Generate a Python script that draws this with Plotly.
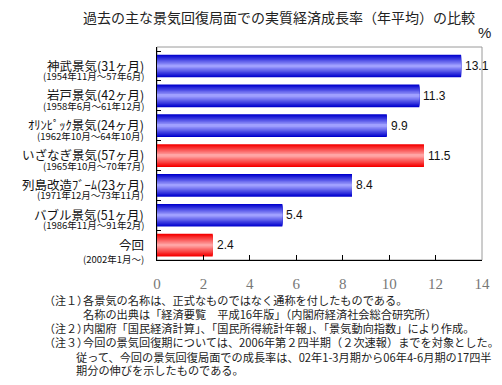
import plotly.graph_objects as go

# ---- data ----
names = ["神武景気(31ヶ月)", "岩戸景気(42ヶ月)", "ｵﾘﾝﾋﾟｯｸ景気(24ヶ月)", "いざなぎ景気(57ヶ月)",
         "列島改造ﾌﾞｰﾑ(23ヶ月)", "バブル景気(51ヶ月)", "今回"]
periods = ["(1954年11月～57年6月)", "(1958年6月～61年12月)", "(1962年10月～64年10月)",
           "(1965年10月～70年7月)", "(1971年12月～73年11月)", "(1986年11月～91年2月)",
           "(2002年1月～)"]
growth = [13.1, 11.3, 9.9, 11.5, 8.4, 5.4, 2.4]
highlight = [False, False, False, True, False, False, True]
x_ticks = [0, 2, 4, 6, 8, 10, 12, 14]

title_text = "過去の主な景気回復局面での実質経済成長率（年平均）の比較"
notes = [
    ("（注１）", "各景気の名称は、正式なものではなく通称を付したものである。"),
    ("", "名称の出典は「経済要覧　平成16年版」（内閣府経済社会総合研究所）"),
    ("（注２）", "内閣府「国民経済計算」、「国民所得統計年報」、「景気動向指数」により作成。"),
    ("（注３）", "今回の景気回復期については、2006年第２四半期（２次速報）までを対象とした。"),
    ("", "従って、今回の景気回復局面での成長率は、02年1-3月期から06年4-6月期の17四半"),
    ("", "期分の伸びを示したものである。"),
]

# ---- layout geometry (px) ----
W, H = 502, 385
L, R, T, B = 157, 15, 47, 125
PW, PH = W - L - R, H - T - B

def px(xp, yp):
    return (xp - L) / PW, 1 - (yp - T) / PH

JP = "Noto Sans CJK JP"

def mix(c1, c2, t):
    return "rgb(%d,%d,%d)" % tuple(round(a + (b - a) * t) for a, b in zip(c1, c2))

blue_dark, blue_light = (0, 0, 205), (160, 160, 255)
red_dark, red_light = (245, 0, 0), (255, 165, 165)

fig = go.Figure()
N = 12
full_w = 0.76
for i in range(N):
    t = i / (N - 1)
    w = full_w * (1 - i / N)
    cols = [mix(red_dark, red_light, t) if h else mix(blue_dark, blue_light, t) for h in highlight]
    fig.add_trace(go.Bar(
        x=growth, y=names, orientation="h", width=w,
        marker=dict(color=cols, line=dict(width=0)),
        hoverinfo="skip", showlegend=False,
    ))

# value labels
for n, v in zip(names, growth):
    fig.add_annotation(x=v, y=n, xref="x", yref="y", text=f"{v:.1f}", showarrow=False,
                       xanchor="left", yanchor="middle", xshift=2,
                       font=dict(family="Liberation Sans, Arial", size=12, color="#111"))

# category labels
for k, (n, p) in enumerate(zip(names, periods)):
    last = k == len(names) - 1
    fig.add_annotation(x=0, y=n, xref="paper", yref="y", text=n, showarrow=False,
                       xanchor="right", yanchor="middle", xshift=-11, yshift=1,
                       font=dict(family=JP, size=12.5, color="#111"))
    fig.add_annotation(x=0, y=n, xref="paper", yref="y", text=p, showarrow=False,
                       xanchor="right", yanchor="middle", xshift=-11,
                       yshift=-14 if last else -10,
                       font=dict(family=JP, size=9.5, color="#111"))

# percent sign
xp, yp = px(490, 33)
fig.add_annotation(x=xp, y=yp, xref="paper", yref="paper", text="%", showarrow=False,
                   xanchor="center", yanchor="middle",
                   font=dict(family="Liberation Sans, Arial", size=15, color="#222"))

# notes
note_y = [300, 314, 328, 342, 357, 370]
for k, ((lab, body), ny) in enumerate(zip(notes, note_y)):
    if lab:
        xp, yp = px(40, ny)
        fig.add_annotation(x=xp, y=yp, xref="paper", yref="paper", text=lab, showarrow=False,
                           xanchor="left", yanchor="middle",
                           font=dict(family=JP, size=11, color="#222"))
    bx = 80 if k < 4 else 73
    xp, yp = px(bx, ny)
    fig.add_annotation(x=xp, y=yp, xref="paper", yref="paper", text=body, showarrow=False,
                       xanchor="left", yanchor="middle",
                       font=dict(family=JP, size=11.2, color="#222"))

# gray frame
fig.add_shape(type="rect", xref="x domain", yref="y domain", x0=0, x1=1, y0=0, y1=1,
              line=dict(color="#9a9a9a", width=1), layer="below")

fig.update_layout(
    width=W, height=H,
    margin=dict(l=L, r=R, t=T, b=B),
    paper_bgcolor="white", plot_bgcolor="white",
    barmode="overlay",
    title=dict(text=title_text, xref="container", yref="container",
               x=279 / W, y=1 - 18 / H, xanchor="center", yanchor="middle",
               font=dict(family=JP, size=14, color="#222")),
    xaxis=dict(range=[0, 14], tickvals=x_ticks, ticktext=[str(v) for v in x_ticks],
               showgrid=False, zeroline=False, showline=True, linecolor="black", linewidth=1,
               ticks="inside", ticklen=5, tickcolor="black",
               tickfont=dict(family="Liberation Serif, Times New Roman", size=15, color="#777"),
               ticklabelstandoff=10),
    yaxis=dict(categoryorder="array", categoryarray=names, autorange="reversed",
               showticklabels=False, showgrid=False, zeroline=False,
               showline=True, linecolor="black", linewidth=1,
               ticks="inside", tickson="boundaries", ticklen=4, tickcolor="black"),
)

fig.write_html("out.html", config={"displayModeBar": False},
               post_script="document.body.style.margin='0';document.body.style.overflow='hidden';")
